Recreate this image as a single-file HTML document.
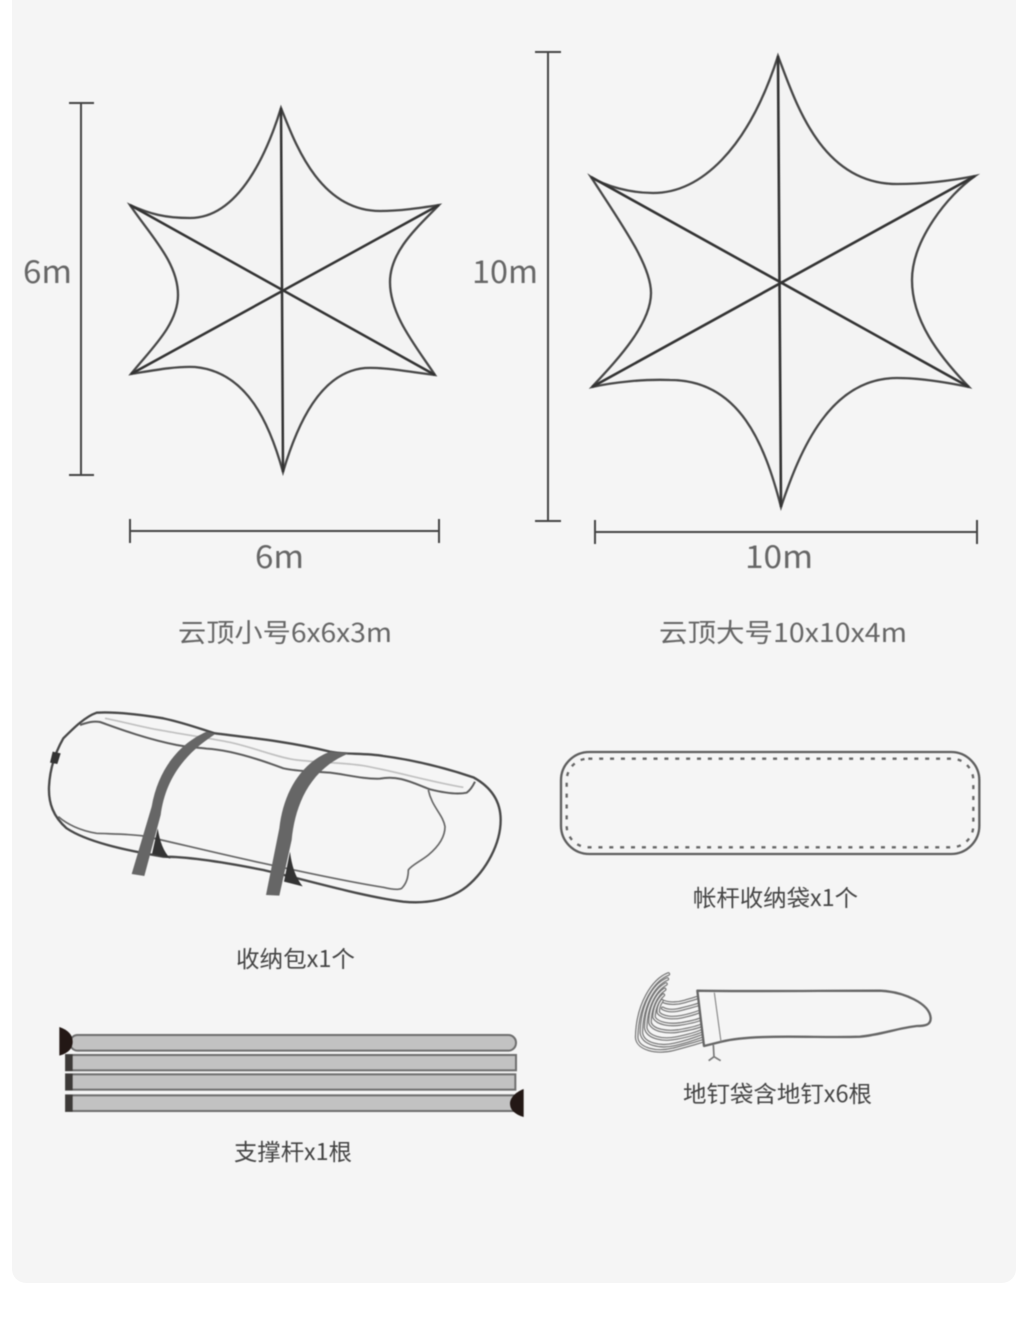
<!DOCTYPE html>
<html lang="zh">
<head>
<meta charset="utf-8">
<title>云顶 sizes</title>
<style>
html,body{margin:0;padding:0;background:#fff;}
svg{display:block;}
text{font-family:"Noto Sans CJK SC","Liberation Sans",sans-serif;}
.b{filter:blur(0.4px);}
</style>
</head>
<body>
<svg width="1024" height="1335" viewBox="0 0 1024 1335" xmlns="http://www.w3.org/2000/svg">
<defs>
<g id="s">
<path d="M145,42 C100,60 52,130 50,232 C52,268 110,280 160,268 C190,260 220,252 248,243"/>
<path d="M142,57 C100,75 66,135 64,218 C68,252 120,264 165,253 C195,246 220,238 246,228"/>
<path d="M138,72 C105,90 78,140 77,203 C82,234 130,242 170,234 C200,228 225,222 244,213"/>
<path d="M134,88 C108,105 90,145 90,188 C98,212 140,218 175,213 C205,208 225,204 242,197"/>
<path d="M130,105 C112,120 102,150 102,172 C113,192 150,196 180,192 C205,188 225,184 240,178"/>
<path d="M126,122 C116,135 114,150 115,158 C128,174 160,175 185,170 C205,166 225,160 238,155"/>
<path d="M128,145 C145,155 170,152 190,146 C205,142 222,138 236,133"/>
<path d="M132,125 C150,132 175,130 195,124 C208,120 222,116 234,112"/>
</g>
</defs>
<rect x="0" y="0" width="1024" height="1335" fill="#fff"/>
<rect x="12" y="-30" width="1004" height="1313" rx="14" fill="#f5f5f5"/>

<g class="b">
<!-- small star -->
<path fill="#f3f3f3" stroke="#474747" stroke-width="2.3" stroke-linejoin="miter" stroke-miterlimit="12" d="M281,108 C294,140 318,211 380,211 C400,211 420,208 439,205 C420,225 390,250 390,282 C390,315 415,345 435,375 C410,372 385,367 365,368 C320,372 297,425 283,472 C270,425 248,372 195,367 C175,366 150,371 131,374 C150,350 178,325 178,295 C178,262 150,235 130,205 C150,214 165,218 190,218 C240,218 268,150 281,108 Z"/>
<path stroke="#333" stroke-width="2.5" fill="none" d="M281,108 L283,472 M130,205 L435,375 M439,205 L131,374"/>

<!-- big star -->
<path fill="#f3f3f3" stroke="#474747" stroke-width="2.3" stroke-linejoin="miter" stroke-miterlimit="12" d="M778,56 C795,100 820,184 897,184 C925,184 950,181 975,176 C948,195 912,240 912,280 C912,320 938,355 969,387 C945,382 920,378 897,378 C830,378 800,450 781,507 C765,445 740,380 670,380 C645,379 615,382 592,387 C615,362 651,325 651,293 C651,265 622,225 591,177 C605,186 630,193 653,193 C700,193 748,150 778,56 Z"/>
<path stroke="#333" stroke-width="2.6" fill="none" d="M778,56 L781,507 M591,177 L969,387 M975,176 L592,387"/>

<!-- dimension lines -->
<g stroke="#444" stroke-width="2" fill="none">
<path d="M81,103 V475 M69,103 H94 M69,475 H94"/>
<path d="M130,531 H439 M130,519 V543 M439,519 V543"/>
<path d="M548,52 V521 M535,52 H561 M535,521 H561"/>
<path d="M595,532 H977 M595,520 V544 M977,520 V544"/>
</g>

<!-- dimension labels -->
<g fill="#666" font-size="31">
<text x="23" y="283" textLength="49" lengthAdjust="spacingAndGlyphs">6m</text>
<text x="472" y="283" textLength="66" lengthAdjust="spacingAndGlyphs">10m</text>
<text x="255" y="568" textLength="49" lengthAdjust="spacingAndGlyphs">6m</text>
<text x="745" y="568" textLength="68" lengthAdjust="spacingAndGlyphs">10m</text>
</g>
<g fill="#666" font-size="26">
<text x="178" y="642" textLength="214" lengthAdjust="spacingAndGlyphs">云顶小号6x6x3m</text>
<text x="659" y="642" textLength="248" lengthAdjust="spacingAndGlyphs">云顶大号10x10x4m</text>
</g>
<g fill="#444" font-size="23">
<text x="693" y="906" textLength="165" lengthAdjust="spacingAndGlyphs">帐杆收纳袋x1个</text>
<text x="236" y="967" textLength="119" lengthAdjust="spacingAndGlyphs">收纳包x1个</text>
<text x="683" y="1102" textLength="189" lengthAdjust="spacingAndGlyphs">地钉袋含地钉x6根</text>
<text x="234" y="1160" textLength="118" lengthAdjust="spacingAndGlyphs">支撑杆x1根</text>
</g>

<!-- bag -->
<g transform="translate(30,700) scale(0.33333)">
<path d="M225,55 C300,70 350,85 400,92 C470,105 540,115 600,127 C680,145 740,172 800,180 C870,188 940,188 1000,197 C1100,215 1200,245 1300,262" fill="none" stroke="#c0c0c0" stroke-width="5"/>
<path d="M150,75 C170,68 190,62 210,66 C250,80 340,115 440,135 C480,143 500,142 530,146 C600,150 680,175 760,205 C800,215 860,214 900,218 C940,222 1000,238 1050,236 C1110,225 1150,250 1200,268 C1240,278 1280,285 1310,278 C1322,270 1330,255 1335,245" fill="none" stroke="#5c5c5c" stroke-width="6"/>
<path d="M85,350 C110,372 150,392 200,400 C250,402 300,402 340,408 C400,420 560,460 700,490 C800,512 950,545 1060,562 C1085,568 1105,570 1115,565 C1130,550 1135,530 1135,510 C1145,495 1170,485 1195,465 C1225,440 1245,410 1245,380 C1240,345 1205,320 1195,270" fill="none" stroke="#666" stroke-width="5"/>
<path d="M200,38 C260,35 340,45 400,55 C470,70 520,90 555,100 C650,112 780,125 900,155 C950,165 1000,158 1060,168 C1150,180 1250,205 1330,232 C1390,265 1412,310 1412,360 C1412,430 1370,510 1310,560 C1260,600 1190,612 1120,605 C1000,590 850,545 700,510 C600,490 480,470 400,470 C280,450 170,425 110,385 C70,350 55,310 57,260 C60,200 80,150 100,115 C130,85 165,50 200,38 Z" fill="none" stroke="#484848" stroke-width="7"/>
<path d="M383,385 L366,462 L422,476 C400,455 390,425 383,385 Z" fill="#333"/>
<path d="M780,455 L762,545 L818,559 C795,530 785,495 780,455 Z" fill="#333"/>
<path d="M530,95 C450,130 385,205 365,320 L305,522 L343,528 L392,345 C405,250 450,170 556,102 Z" fill="#666"/>
<path d="M900,155 C810,190 760,280 748,385 L708,585 L748,587 L785,420 C795,320 835,210 956,160 Z" fill="#666"/>
<path d="M68,155 L92,160 L82,192 L60,188 Z" fill="#333"/>
</g>

<!-- pole bag -->
<g transform="translate(550,740) scale(0.33333)" fill="none">
<rect x="33" y="36" width="1255" height="306" rx="85" stroke="#5e5e5e" stroke-width="7"/>
<rect x="50" y="56" width="1220" height="266" rx="65" stroke="#666" stroke-width="7" stroke-dasharray="12 20.6"/>
</g>

<!-- poles -->
<g transform="translate(40,1015) scale(0.33333)" stroke="#6e6e6e" stroke-width="6" fill="#c2c2c2">
<rect x="90" y="60" width="1338" height="47" rx="23"/>
<rect x="78" y="120" width="1350" height="46"/>
<rect x="78" y="178" width="1348" height="46"/>
<rect x="78" y="241" width="1345" height="47"/>
<g stroke="none" fill="#3d3a38">
<rect x="76" y="118" width="22" height="50"/>
<rect x="76" y="176" width="22" height="50"/>
<rect x="76" y="239" width="22" height="51"/>
</g>
<g stroke="none" fill="#231815">
<path d="M58,36 C85,45 98,60 98,80 C98,100 85,115 58,122 Z"/>
<path d="M1451,222 C1425,232 1410,250 1410,265 C1410,285 1425,298 1451,306 Z"/>
</g>
</g>

<!-- peg bag -->
<g transform="translate(620,960) scale(0.33333)" fill="none">
<use href="#s" stroke="#757575" stroke-width="11" stroke-linecap="round"/>
<use href="#s" stroke="#f0f0f0" stroke-width="4" stroke-linecap="round"/>
<path d="M280,255 L282,290 M282,290 L266,302 M282,290 L302,302" stroke="#777" stroke-width="5"/>
<path d="M232,92 C400,95 600,92 780,92 C850,95 930,130 932,175 C932,195 915,198 890,198 C830,205 780,225 720,230 C600,235 400,220 305,245 L252,258 Z" fill="#f5f5f5" stroke="#666" stroke-width="7" stroke-linejoin="round"/>
<path d="M283,98 L303,245" stroke="#888" stroke-width="3.5"/>
</g>
</g>
</svg>
</body>
</html>
